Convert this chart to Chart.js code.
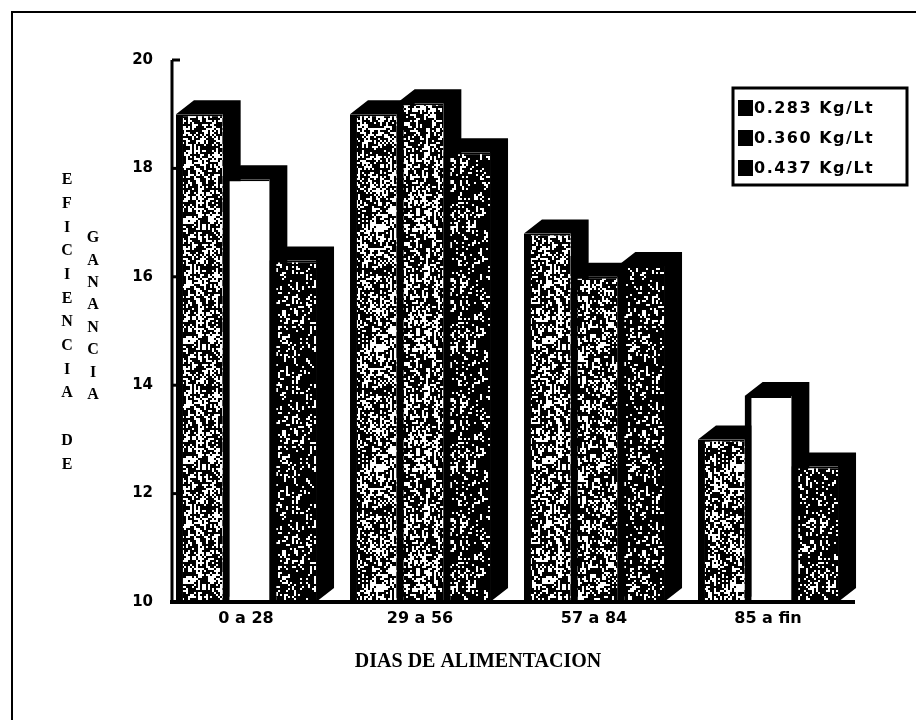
<!DOCTYPE html>
<html>
<head>
<meta charset="utf-8">
<script src="https://cdn.jsdelivr.net/npm/chart.js@4/dist/chart.umd.min.js"></script>
<style>
  html, body { margin: 0; padding: 0; background: #fff; }
  #wrap { width: 916px; height: 720px; position: relative; }
</style>
</head>
<body>
<div id="wrap"><canvas id="c" width="916" height="720"></canvas></div>
<script>
// Feeding periods (days) and gain efficiency for three feed concentrations
const categories = ['0 a 28', '29 a 56', '57 a 84', '85 a fin'];
const seriesLabels = ['0.283 Kg/Lt', '0.360 Kg/Lt', '0.437 Kg/Lt'];
const serie283 = [19.0, 19.0, 16.8, 13.0];
const serie360 = [17.8, 19.2, 16.0, 13.8];
const serie437 = [16.3, 18.3, 16.2, 12.5];
const yTicks = [10, 12, 14, 16, 18, 20];
const yTitleLeft = 'EFICIENCIA DE';
const yTitleRight = 'GANANCIA';
const xTitle = 'DIAS DE ALIMENTACION';

const canvas = document.getElementById('c');
const ctx0 = canvas.getContext('2d');

// deterministic speckle texture for the bar faces
function hash(x, y, s) {
  let h = (Math.imul(x, 374761393) + Math.imul(y, 668265263) + Math.imul(s, 97531)) | 0;
  h = Math.imul(h ^ (h >>> 13), 1274126177);
  return ((h ^ (h >>> 16)) >>> 0) / 4294967295;
}
function grain(seed, density) {
  const n = 120;
  const c = document.createElement('canvas');
  c.width = n; c.height = n;
  const g = c.getContext('2d');
  g.fillStyle = '#000';
  g.fillRect(0, 0, n, n);
  g.fillStyle = '#fff';
  for (let y = 0; y < n; y += 2) {
    for (let x = 0; x < n; x += 2) {
      // streaky vertical grain: neighbouring rows share part of the noise
      const v = 0.6 * hash(x, y, seed) + 0.4 * hash(x, (y / 8) | 0, seed + 1);
      if (v < density) g.fillRect(x, y, 2, 2);
    }
  }
  return ctx0.createPattern(c, 'repeat');
}
const texA = grain(3, 0.44);
const texB = grain(7, 0.44);
const texC = grain(11, 0.32);

const DX = 18, DY = 14;          // depth of the 3D blocks
const AXIS_SHIFT = 13;           // back wall sits behind the front row

const depthPlugin = {
  id: 'depth',
  beforeDatasetsDraw(chart) {
    const ctx = chart.ctx;
    const floor = chart.scales.y.getPixelForValue(yTicks[0]);
    ctx.save();
    ctx.fillStyle = '#000';
    chart.data.datasets.forEach((ds, i) => {
      const meta = chart.getDatasetMeta(i);
      meta.data.forEach(bar => {
        const l = bar.x - bar.width / 2, r = bar.x + bar.width / 2;
        const t = bar.y, b = Math.min(bar.base, floor);
        ctx.beginPath();
        ctx.moveTo(l, t);
        ctx.lineTo(l + DX, t - DY);
        ctx.lineTo(r + DX, t - DY);
        ctx.lineTo(r + DX, b - DY);
        ctx.lineTo(r, b);
        ctx.lineTo(r, t);
        ctx.closePath();
        ctx.fill();
      });
    });
    ctx.restore();
  },
  afterDraw(chart) {
    const ctx = chart.ctx;
    const ys = chart.scales.y;
    const area = chart.chartArea;
    const ax = area.left + AXIS_SHIFT;
    ctx.save();
    ctx.strokeStyle = '#000';
    ctx.fillStyle = '#000';

    // page frame
    ctx.lineWidth = 2;
    ctx.beginPath();
    ctx.moveTo(12, 720); ctx.lineTo(12, 12); ctx.lineTo(916, 12);
    ctx.stroke();

    // value axis with inward ticks
    ctx.lineWidth = 3;
    ctx.beginPath();
    ctx.moveTo(ax, ys.getPixelForValue(yTicks[yTicks.length - 1]));
    ctx.lineTo(ax, ys.getPixelForValue(yTicks[0]));
    ctx.stroke();
    yTicks.forEach(v => {
      const y = ys.getPixelForValue(v);
      ctx.beginPath();
      ctx.moveTo(ax, y); ctx.lineTo(ax + 8, y);
      ctx.stroke();
    });
    // floor line
    ctx.lineWidth = 4;
    const by = ys.getPixelForValue(yTicks[0]);
    ctx.beginPath();
    ctx.moveTo(ax - 2, by); ctx.lineTo(area.right, by);
    ctx.stroke();

    // stacked vertical titles
    ctx.font = 'bold 16px "Liberation Serif"';
    ctx.textAlign = 'center';
    ctx.textBaseline = 'middle';
    [...yTitleLeft].forEach((ch, i) => ctx.fillText(ch, 67, 180 + i * 23.7));
    [...yTitleRight].forEach((ch, i) => ctx.fillText(ch, 93, 238 + i * 22.4));

    // category axis title
    ctx.font = 'bold 20px "Liberation Serif"';
    ctx.fillText(xTitle, 478, 662);

    // legend box
    ctx.lineWidth = 3;
    ctx.strokeRect(733, 88, 174, 97);
    ctx.font = 'bold 16px "DejaVu Sans"';
    ctx.letterSpacing = '1.5px';
    ctx.textAlign = 'left';
    chart.data.datasets.forEach((ds, i) => {
      const y = 108 + i * 30;
      ctx.fillRect(738, y - 8, 15, 16);
      ctx.fillText(ds.label, 754, y + 1);
    });
    ctx.restore();
  }
};

new Chart(canvas, {
  type: 'bar',
  data: {
    labels: categories,
    datasets: [
      { label: seriesLabels[0], data: serie283, backgroundColor: texA },
      { label: seriesLabels[1], data: serie360, backgroundColor: ['#fff', texB, texB, '#fff'] },
      { label: seriesLabels[2], data: serie437, backgroundColor: texC }
    ]
  },
  options: {
    responsive: false,
    devicePixelRatio: 1,
    animation: false,
    layout: { padding: { top: 60, right: 61, bottom: 0, left: 0 } },
    datasets: {
      bar: {
        base: yTicks[0],
        categoryPercentage: 0.805,
        barPercentage: 1.0,
        borderColor: '#000',
        borderWidth: { left: 7, right: 0, top: 2, bottom: 0 },
        borderSkipped: false
      }
    },
    plugins: {
      legend: { display: false },
      tooltip: { enabled: false }
    },
    scales: {
      x: {
        grid: { display: false, drawTicks: false },
        border: { display: false },
        ticks: {
          color: '#000',
          padding: 7,
          font: { family: '"DejaVu Sans"', weight: 'bold', size: 16 }
        },
        afterFit(s) { s.height = 118; }
      },
      y: {
        min: yTicks[0],
        max: yTicks[yTicks.length - 1],
        grid: { display: false, drawTicks: false },
        border: { display: false },
        afterBuildTicks(s) { s.ticks = yTicks.map(v => ({ value: v })); },
        ticks: {
          color: '#000',
          padding: 6,
          font: { family: '"DejaVu Sans"', weight: 'bold', size: 15 }
        },
        afterFit(s) { s.width = 159; }
      }
    }
  },
  plugins: [depthPlugin]
});
</script>
</body>
</html>
